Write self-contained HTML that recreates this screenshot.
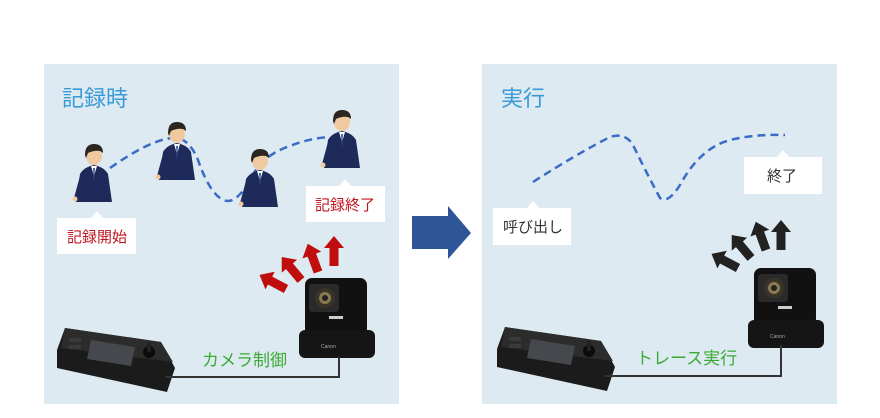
<!DOCTYPE html>
<html><head><meta charset="utf-8"><style>
body{margin:0;background:#fff}
svg{display:block}
text{font-family:"Liberation Sans","Noto Sans CJK JP",sans-serif}
</style></head><body>
<svg width="880" height="418" viewBox="0 0 880 418" xmlns="http://www.w3.org/2000/svg">
<defs>
<g id="person">
<path d="M-18,50 L-14,22 Q-10,15 0,13 Q10,15 14,22 L18,50 Z" fill="#1d2a5a"/>
<path d="M-14,24 L-20,46 L-16,48 L-10,32Z" fill="#1d2a5a"/>
<circle cx="-19" cy="47" r="2.5" fill="#f0c9a0"/>
<path d="M-3,14 L0,24 L3,14Z" fill="#fff"/><path d="M-1,16 L0,30 L1,16Z" fill="#3a5aa0"/>
<ellipse cx="0" cy="4" rx="8" ry="9" fill="#f0c9a0"/>
<path d="M-9,3 Q-9,-8 0,-8 Q9,-8 9,1 L6,-1 Q0,-2 -6,1 L-8,6Z" fill="#2b2620"/>
</g>
<g id="cam">
<rect x="0" y="0" width="62" height="58" rx="7" fill="#111"/>
<rect x="-6" y="52" width="76" height="28" rx="6" fill="#151515"/>
<rect x="4" y="6" width="30" height="28" rx="3" fill="#2a2a2a"/>
<circle cx="20" cy="20" r="10" fill="#3a3428"/><circle cx="20" cy="20" r="6" fill="#8a7a50"/><circle cx="20" cy="20" r="3" fill="#222"/>
<rect x="24" y="38" width="14" height="3" fill="#ccc"/>
<text x="16" y="70" font-size="5" fill="#aaa">Canon</text>
</g>
<g id="ctrl">
<path d="M8,0 L104,14 L118,40 L110,64 L0,40 L0,22Z" fill="#1b1b1b"/>
<path d="M8,0 L104,14 L116,34 L4,20Z" fill="#2c2c2c"/>
<path d="M34,12 L78,19 L74,38 L30,31Z" fill="#45484c"/>
<circle cx="92" cy="24" r="6" fill="#0c0c0c"/><rect x="90" y="14" width="4" height="10" fill="#222"/>
<rect x="12" y="10" width="12" height="4" fill="#3a3a3a"/><rect x="12" y="17" width="12" height="4" fill="#3a3a3a"/>
</g>
<path id="ar" d="M-4.5,0 L4.5,0 L4.5,-18 L10,-18 L0,-30 L-10,-18 L-4.5,-18Z"/>
</defs>
<rect x="44" y="64" width="355" height="340" fill="#deeaf2"/>
<rect x="482" y="64" width="355" height="340" fill="#deeaf2"/>
<text x="62" y="106" font-size="22" fill="#3a9ad6">記録時</text>
<text x="501" y="106" font-size="22" fill="#3a9ad6">実行</text>
<path d="M412,216 L448,216 L448,206 L471,233 L448,259 L448,249 L412,249Z" fill="#2d5597"/>
<path d="M110,168 Q150,140 172,138 Q188,136 198,160 Q212,200 228,201 Q238,201 250,180 Q262,155 290,146 Q310,138 330,137" fill="none" stroke="#3a6bc6" stroke-width="2.5" stroke-dasharray="8,5"/>
<use href="#person" x="94" y="152"/><use href="#person" x="177" y="130"/><use href="#person" x="260" y="157"/><use href="#person" x="342" y="118"/>
<path d="M57,218 L91,218 L97,211 L103,218 L136,218 L136,254 L57,254Z" fill="#fff"/>
<text x="67" y="242" font-size="15" fill="#c0151f">記録開始</text>
<path d="M306,186 L339,186 L345,179 L351,186 L385,186 L385,222 L306,222Z" fill="#fff"/>
<text x="315" y="210" font-size="15" fill="#c0151f">記録終了</text>
<g fill="#c00d0d">
<use href="#ar" transform="translate(286,289) rotate(-62)"/>
<use href="#ar" transform="translate(301,280) rotate(-40)"/>
<use href="#ar" transform="translate(318,272) rotate(-20)"/>
<use href="#ar" transform="translate(334,266) rotate(0)"/>
</g>
<use href="#cam" x="305" y="278"/>
<use href="#ctrl" x="57" y="328"/>
<path d="M165,377 L339,377 L339,357" fill="none" stroke="#333" stroke-width="2"/>
<text x="202" y="366" font-size="17" fill="#3aaa35">カメラ制御</text>
<path d="M533,182 Q575,155 610,137 Q625,132 633,145 Q645,170 660,198 Q668,204 680,185 Q700,148 730,140 Q755,134 785,135" fill="none" stroke="#3a6bc6" stroke-width="2.5" stroke-dasharray="8,5"/>
<path d="M493,208 L527,208 L533,201 L539,208 L571,208 L571,245 L493,245Z" fill="#fff"/>
<text x="503" y="232" font-size="15" fill="#333">呼び出し</text>
<path d="M744,157 L777,157 L783,150 L789,157 L822,157 L822,194 L744,194Z" fill="#fff"/>
<text x="767" y="181" font-size="15" fill="#333">終了</text>
<g fill="#222">
<use href="#ar" transform="translate(738,268) rotate(-62)"/>
<use href="#ar" transform="translate(751,258) rotate(-40)"/>
<use href="#ar" transform="translate(766,250) rotate(-20)"/>
<use href="#ar" transform="translate(781,250) rotate(0)"/>
</g>
<use href="#cam" x="754" y="268"/>
<use href="#ctrl" x="497" y="327"/>
<path d="M605,376 L781,376 L781,345" fill="none" stroke="#333" stroke-width="2"/>
<text x="636" y="364" font-size="17" fill="#3aaa35">トレース実行</text>
</svg>
</body></html>
